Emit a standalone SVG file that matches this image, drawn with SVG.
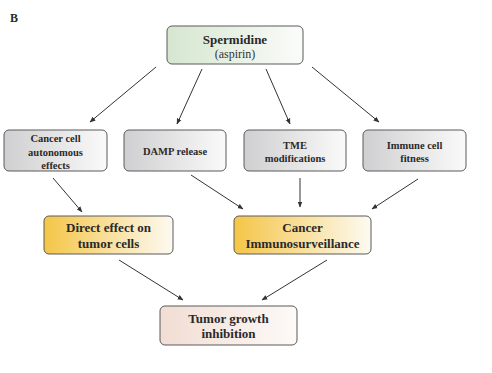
<svg xmlns="http://www.w3.org/2000/svg" width="492" height="373" viewBox="0 0 492 373">
<defs>
<linearGradient id="gGreen" x1="0" y1="0" x2="1" y2="0"><stop offset="0" stop-color="#d5e6cf"/><stop offset="1" stop-color="#fbfcfa"/></linearGradient>
<linearGradient id="gGray" x1="0" y1="0" x2="1" y2="0"><stop offset="0" stop-color="#cfcfd1"/><stop offset="1" stop-color="#fafafa"/></linearGradient>
<linearGradient id="gYellow" x1="0" y1="0" x2="1" y2="0"><stop offset="0" stop-color="#f4c547"/><stop offset="1" stop-color="#fdfaf2"/></linearGradient>
<linearGradient id="gPeach" x1="0" y1="0" x2="1" y2="0"><stop offset="0" stop-color="#f1ddd3"/><stop offset="1" stop-color="#fdfaf8"/></linearGradient>
<marker id="ah" viewBox="0 0 10 10" refX="9" refY="5" markerWidth="6" markerHeight="6" orient="auto" markerUnits="userSpaceOnUse"><path d="M0,1 L10,5 L0,9 Z" fill="#333"/></marker>
</defs>
<style>
.box{stroke:#5a5a5a;stroke-width:1}
.t{font-family:"Liberation Serif","Times New Roman",serif;font-weight:bold;fill:#2a2a2a;text-anchor:middle}
.s{font-size:10.5px}
.m{font-size:13px}
.r{font-family:"Liberation Serif","Times New Roman",serif;fill:#333;text-anchor:middle;font-size:12px}
.c{stroke:#333;stroke-width:1;fill:none;marker-end:url(#ah)}
</style>
<rect width="492" height="373" fill="#ffffff"/>
<text x="10" y="22" class="t" style="text-anchor:start;font-size:12px">B</text>
<g id="connectors">
<line class="c" x1="156" y1="67" x2="90" y2="122"/>
<line class="c" x1="202" y1="69" x2="177" y2="124"/>
<line class="c" x1="266" y1="69" x2="290" y2="124"/>
<line class="c" x1="312" y1="67" x2="379" y2="122"/>
<line class="c" x1="53" y1="178" x2="82" y2="212"/>
<line class="c" x1="191" y1="175" x2="243" y2="209"/>
<line class="c" x1="300" y1="178" x2="300" y2="207"/>
<line class="c" x1="418" y1="179" x2="372" y2="209"/>
<line class="c" x1="119" y1="260" x2="183" y2="300"/>
<line class="c" x1="327" y1="260" x2="262" y2="300"/>
</g>
<g id="spermidine">
<rect class="box" x="167" y="26" width="136" height="38" rx="5" fill="url(#gGreen)"/>
<text x="235" y="43.5" class="t m">Spermidine</text>
<text x="235" y="58" class="r">(aspirin)</text>
</g>
<g id="cancer-cell-autonomous">
<rect class="box" x="4" y="130" width="103" height="41" rx="5" fill="url(#gGray)"/>
<text x="55.5" y="141.5" class="t s">Cancer cell</text>
<text x="55.5" y="155.5" class="t s">autonomous</text>
<text x="55.5" y="169" class="t s">effects</text>
</g>
<g id="damp-release">
<rect class="box" x="124" y="130" width="102" height="41" rx="5" fill="url(#gGray)"/>
<text x="175" y="155" class="t s">DAMP release</text>
</g>
<g id="tme-modifications">
<rect class="box" x="244" y="130" width="102" height="41" rx="5" fill="url(#gGray)"/>
<text x="295" y="148.5" class="t s">TME</text>
<text x="295" y="162" class="t s">modifications</text>
</g>
<g id="immune-cell-fitness">
<rect class="box" x="363" y="130" width="103" height="41" rx="5" fill="url(#gGray)"/>
<text x="414.5" y="148.5" class="t s">Immune cell</text>
<text x="414.5" y="162" class="t s">fitness</text>
</g>
<g id="direct-effect">
<rect class="box" x="44" y="216" width="129" height="38" rx="5" fill="url(#gYellow)"/>
<text x="108.5" y="232" class="t m">Direct effect on</text>
<text x="108.5" y="248" class="t m">tumor cells</text>
</g>
<g id="cancer-immunosurveillance">
<rect class="box" x="234" y="216" width="137" height="38" rx="5" fill="url(#gYellow)"/>
<text x="302.5" y="232" class="t m">Cancer</text>
<text x="302.5" y="248" class="t m">Immunosurveillance</text>
</g>
<g id="tumor-growth-inhibition">
<rect class="box" x="160" y="306" width="137" height="39" rx="5" fill="url(#gPeach)"/>
<text x="228.5" y="323" class="t m">Tumor growth</text>
<text x="228.5" y="338" class="t m">inhibition</text>
</g>
</svg>
